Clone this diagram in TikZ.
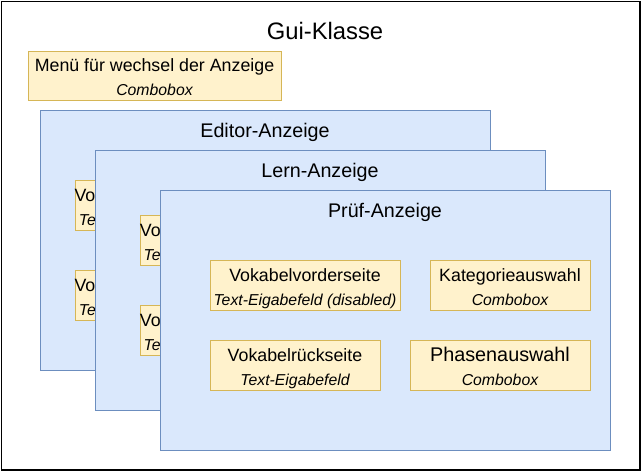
\documentclass[tikz,border=0pt]{standalone}
\usepackage{fontspec}
\setmainfont{Liberation Sans}
\definecolor{yfill}{HTML}{FFF2CC}
\definecolor{ystroke}{HTML}{D6B656}
\definecolor{bfill}{HTML}{DAE8FC}
\definecolor{bstroke}{HTML}{6C8EBF}
\tikzset{
  ybox/.style={draw=ystroke, fill=yfill, line width=1pt, inner sep=0pt, outer sep=0pt, anchor=north west},
  bbox/.style={draw=bstroke, fill=bfill, line width=1pt, inner sep=0pt, outer sep=0pt, anchor=north west, minimum width=450pt, minimum height=260pt},
  tone/.style={inner sep=0pt, anchor=base, font=\fontsize{17.8}{20}\selectfont},
  ttwo/.style={inner sep=0pt, anchor=base, font=\fontsize{15.8}{18}\selectfont\itshape},
  ttitle/.style={inner sep=0pt, anchor=base, font=\fontsize{19.7}{22}\selectfont},
}
\begin{document}
\begin{tikzpicture}[x=1pt,y=-1pt]
\useasboundingbox (0,0) rectangle (641,471);
\node[draw=black, line width=1.4pt, inner sep=0pt, anchor=north west, minimum width=638.6pt, minimum height=468.6pt] (frame) at (0.7,0.7) {};
\node[inner sep=0pt, anchor=base, font=\fontsize{23.8}{26}\selectfont] (gui) at (325,39) {Gui-Klasse};
% menu
\node[ybox, minimum width=253pt, minimum height=49pt] (menu) at (28,51) {};
\node[tone] (menut1) at ([yshift=-20.5pt]menu.north) {Menü für wechsel der Anzeige};
\node[ttwo] (menut2) at ([yshift=-44pt]menu.north) {Combobox};
% Editor
\node[bbox] (editor) at (40,110) {};
\node[ttitle] (editort) at ([yshift=-27pt]editor.north) {Editor-Anzeige};
\node[ybox, minimum width=190pt, minimum height=50pt] (eone) at (75,180) {};
\node[tone, anchor=base west] (eonet1) at (74.3,201.7) {Vo};
\node[ttwo, anchor=base west] (eonet2) at (78.7,225) {Te};
\node[ybox, minimum width=190pt, minimum height=50pt] (etwo) at (75,270) {};
\node[tone, anchor=base west] (etwot1) at (74.3,291.7) {Vo};
\node[ttwo, anchor=base west] (etwot2) at (78.7,315) {Te};
% Lern
\node[bbox] (lern) at (95,150) {};
\node[ttitle] (lernt) at ([yshift=-27pt]lern.north) {Lern-Anzeige};
\node[ybox, minimum width=190pt, minimum height=50pt] (lone) at (140,215) {};
\node[tone, anchor=base west] (lonet1) at (139.7,236.7) {Vo};
\node[ttwo, anchor=base west] (lonet2) at (143.5,260) {Te};
\node[ybox, minimum width=190pt, minimum height=50pt] (ltwo) at (140,305) {};
\node[tone, anchor=base west] (ltwot1) at (139.7,326.7) {Vo};
\node[ttwo, anchor=base west] (ltwot2) at (143.5,350) {Te};
% Pruef
\node[bbox] (pruef) at (160,190) {};
\node[ttitle] (prueft) at ([yshift=-27pt]pruef.north) {Prüf-Anzeige};
\node[ybox, minimum width=190pt, minimum height=50pt] (vv) at (210,260) {};
\node[tone] (vvt1) at ([yshift=-21.7pt]vv.north) {Vokabelvorderseite};
\node[ttwo] (vvt2) at ([yshift=-45pt]vv.north) {Text-Eigabefeld (disabled)};
\node[ybox, minimum width=160pt, minimum height=50pt] (ka) at (430,260) {};
\node[tone] (kat1) at ([yshift=-21.7pt]ka.north) {Kategorieauswahl};
\node[ttwo] (kat2) at ([yshift=-45pt]ka.north) {Combobox};
\node[ybox, minimum width=170pt, minimum height=50pt] (vr) at (210,340) {};
\node[tone] (vrt1) at ([yshift=-21.7pt]vr.north) {Vokabelrückseite};
\node[ttwo] (vrt2) at ([yshift=-45pt]vr.north) {Text-Eigabefeld};
\node[ybox, minimum width=180pt, minimum height=50pt] (ph) at (410,340) {};
\node[tone, font=\fontsize{19.8}{22}\selectfont] (pht1) at ([yshift=-21pt]ph.north) {Phasenauswahl};
\node[ttwo] (pht2) at ([yshift=-45pt]ph.north) {Combobox};
\end{tikzpicture}
\end{document}
